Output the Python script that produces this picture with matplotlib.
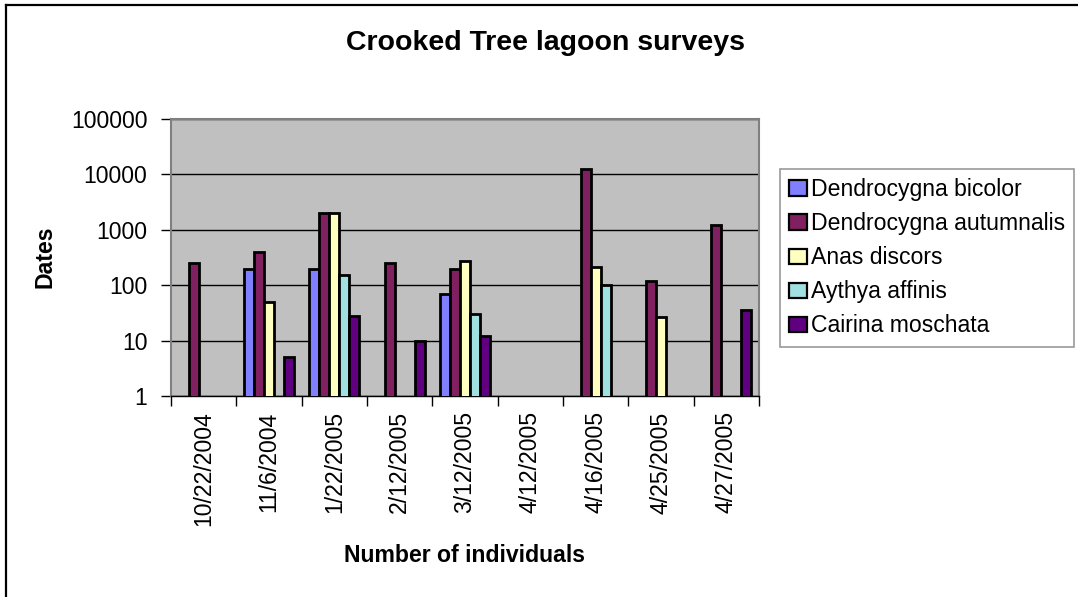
"""Crooked Tree lagoon surveys - grouped log bar chart"""
import numpy as np
import matplotlib
matplotlib.use("Agg")
import matplotlib.pyplot as plt
from matplotlib.lines import Line2D

plt.rcParams["font.family"] = ["Liberation Sans", "DejaVu Sans"]

dates = ["10/22/2004", "11/6/2004", "1/22/2005", "2/12/2005", "3/12/2005",
         "4/12/2005", "4/16/2005", "4/25/2005", "4/27/2005"]
species = ["Dendrocygna bicolor", "Dendrocygna autumnalis", "Anas discors",
           "Aythya affinis", "Cairina moschata"]

nan = np.nan
bicolor = [nan, 200, 200, nan, 70, nan, nan, nan, nan]
autumnalis = [250, 400, 2000, 250, 200, nan, 12500, 120, 1200]
discors = [nan, 50, 2000, nan, 275, nan, 210, 27, nan]
affinis = [nan, nan, 150, nan, 30, nan, 100, nan, nan]
moschata = [nan, 5, 28, 10, 12, nan, nan, nan, 35]

series = [bicolor, autumnalis, discors, affinis, moschata]
colors = ["#8080FF", "#802060", "#FFFFC0", "#A0E0E0", "#600080"]

W, H = 1078, 597
fs = 16.6

fig = plt.figure(figsize=(W / 100, H / 100), dpi=100)
ax = fig.add_axes([171 / W, 1 - 396 / H, 588 / W, 277 / H])
ax.set_facecolor("#C0C0C0")

# Excel-like grouping: gap width 150%
n = len(series)
bw = 1.0 / (n + 1.5)
x = np.arange(len(dates))
for i, (vals, col, name) in enumerate(zip(series, colors, species)):
    offs = (i - (n - 1) / 2) * bw
    ax.bar(x + offs, np.array(vals, dtype=float), width=bw, color=col,
           edgecolor="black", linewidth=2.0, label=name, log=True, zorder=3)

ax.set_yscale("log")
ax.set_ylim(1, 100000)
ax.set_xlim(-0.5, len(dates) - 0.5)
ax.set_yticks([1, 10, 100, 1000, 10000, 100000])
ax.set_yticklabels(["1", "10", "100", "1000", "10000", "100000"])
ax.yaxis.set_minor_locator(matplotlib.ticker.NullLocator())
ax.grid(axis="y", which="major", color="black", linewidth=1.0, zorder=1)

# ticks on category boundaries, labels centered
ax.set_xticks(np.arange(len(dates) + 1) - 0.5)
ax.set_xticklabels([])
ax.set_xticks(x, minor=True)
ax.set_xticklabels(dates, minor=True, rotation=90, fontsize=fs)
ax.tick_params(axis="x", which="minor", length=0, pad=11)
ax.tick_params(axis="x", which="major", length=7, width=1, color="black")
ax.tick_params(axis="y", length=7, width=1, labelsize=fs, pad=10)

for side in ["top", "right", "left"]:
    ax.spines[side].set_color("#808080")
    ax.spines[side].set_linewidth(1.5)
ax.spines["bottom"].set_color("black")
ax.spines["bottom"].set_linewidth(1.0)

fig.text(546 / W, 1 - 43 / H, "Crooked Tree lagoon surveys", fontsize=20.5,
         fontweight="bold", ha="center", va="center")
fig.text(465 / W, 1 - 556 / H, "Number of individuals", fontsize=fs,
         fontweight="bold", ha="center", va="center")
fig.text(45 / W, 1 - 257 / H, "Dates", fontsize=fs, fontweight="bold",
         ha="center", va="center", rotation=90)

leg = fig.legend(loc="upper left", bbox_to_anchor=(780 / W, 1 - 169 / H),
                 fontsize=fs, frameon=True, fancybox=False, borderpad=0.4,
                 labelspacing=0.48, handlelength=0.75, handleheight=0.65,
                 handletextpad=0.2, borderaxespad=0)
leg.get_frame().set_edgecolor("#808080")
leg.get_frame().set_linewidth(1.2)
for h in leg.legend_handles:
    h.set_linewidth(1.6)

# outer chart border: only left and top edges are visible in the reference
fig.lines.append(Line2D([6 / W, 6 / W], [0, 1 - 5 / H],
                        transform=fig.transFigure, color="black", linewidth=1.6))
fig.lines.append(Line2D([6 / W, 1], [1 - 5 / H, 1 - 5 / H],
                        transform=fig.transFigure, color="black", linewidth=1.6))

fig.savefig("out.png", dpi=100)
